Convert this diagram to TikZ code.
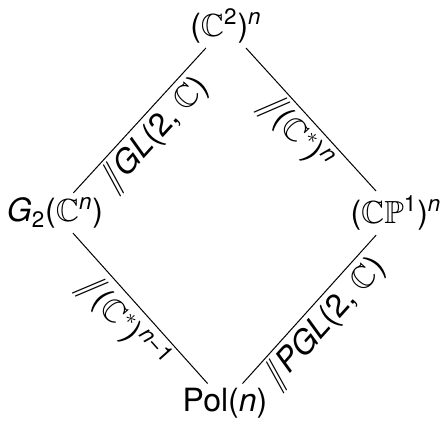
\documentclass[tikz,border=0pt]{standalone}
\usepackage{amsmath,amssymb}
\usepackage{fontspec}
\setmainfont{TeX Gyre Heros}
\usepackage{tikz}
\newcommand{\CC}{\mathbb{C}}
\newcommand{\PP}{\mathbb{P}}
\newcommand{\gitq}{\(/\!\!/\)}
\tikzset{
  obj/.style={font=\fontsize{16}{19}\selectfont,inner sep=2pt},
  quotline/.style={draw=black,line width=0.5pt},
  quot/.style={font=\fontsize{16}{19}\selectfont,sloped,below,inner sep=1.5pt},
}
\begin{document}
\begin{tikzpicture}[x=0.5pt,y=-0.5pt]
  \useasboundingbox (0,0) rectangle (446,424);
  % espaces
  \node[obj] (pairs) at (226,26) {(\(\CC\)\textsuperscript{2})\textsuperscript{\itshape n}};
  \node[obj] (grass) at (55,213) {\textit{G}\textsubscript{2}(\(\CC\)\textsuperscript{\itshape n})};
  \node[obj] (proj) at (396,213) {(\(\CC\PP\)\textsuperscript{1})\textsuperscript{\itshape n}};
  \node[obj] (pol) at (225,403) {Pol(\textit{n})};
  % quotients
  \draw[quotline] (grass) -- node[quot] {\gitq\textit{GL}(2, \(\CC\))} (pairs);
  \draw[quotline] (pairs) -- node[quot] {\gitq(\(\CC^*\))\textsuperscript{\itshape n}} (proj);
  \draw[quotline] (grass) -- node[quot] {\gitq(\(\CC^*\))\textsuperscript{\textit{n}−1}} (pol);
  \draw[quotline] (pol) -- node[quot] {\gitq\textit{PGL}(2, \(\CC\))} (proj);
\end{tikzpicture}
\end{document}
